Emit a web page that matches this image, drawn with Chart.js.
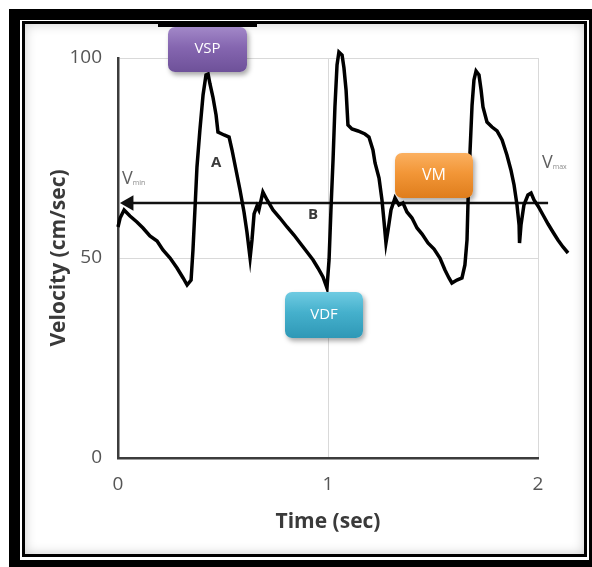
<!DOCTYPE html>
<html>
<head>
<meta charset="utf-8">
<script src="https://cdn.jsdelivr.net/npm/chart.js@4"></script>
<style>
  html, body { margin: 0; padding: 0; background: #fff; }
  #page { position: relative; width: 592px; height: 567px; overflow: hidden; background: #fff; }
  #outer-frame {
    position: absolute; left: 9px; top: 9px; width: 569px; height: 540px;
    border: 11px solid #000; background: #fff;
  }
  #inner-frame {
    position: absolute; left: 22px; top: 21px; width: 559px; height: 530px;
    border: 3px solid #000; background: #fff;
    box-shadow: inset 0 0 12px rgba(0, 0, 0, 0.2);
  }
  #chart { position: absolute; left: 0; top: 0; }
  .note { position: absolute; font-family: "Open Sans", sans-serif; }
  .letter { font-weight: bold; font-size: 15px; color: #3a3a3a; }
  .vlabel { font-size: 18px; color: #5f5f5f; line-height: 1; }
  .vlabel sub { font-size: 7px; vertical-align: baseline; position: relative; top: 1px; color: #8a8a8a; }
  .tag {
    position: absolute; color: #fff; font-family: "Open Sans", sans-serif;
    text-align: center; border-radius: 7px;
    box-shadow: 2px 3px 5px rgba(0, 0, 0, 0.35);
  }
  #vsp { left: 168px; top: 27px; width: 79px; height: 45px; line-height: 41px; font-size: 15px;
         background: linear-gradient(#a288c8, #8566b0 45%, #6e5199); }
  #vm  { left: 395px; top: 153px; width: 78px; height: 45px; line-height: 42px; font-size: 16px;
         background: linear-gradient(#fbb060, #f29637 45%, #df7d1c); }
  #vdf { left: 285px; top: 292px; width: 78px; height: 46px; line-height: 42px; font-size: 15px;
         background: linear-gradient(#6fcbe2, #45b0cc 45%, #2f98b6); }
  #cut { position: absolute; left: 158px; top: 23px; width: 99px; height: 4px; background: #000; }
</style>
</head>
<body>
<div id="page">
  <div id="outer-frame"></div>
  <div id="inner-frame"></div>
  <canvas id="chart" width="592" height="567"></canvas>

  <div class="note vlabel" style="left:122px; top:168px;">V<sub>min</sub></div>
  <div class="note vlabel" style="left:542px; top:152px;">V<sub>max</sub></div>
  <div class="note letter" style="left:211px; top:151px;">A</div>
  <div class="note letter" style="left:308px; top:203px;">B</div>

  <div id="cut"></div>
  <div class="tag" id="vsp">VSP</div>
  <div class="tag" id="vm">VM</div>
  <div class="tag" id="vdf">VDF</div>
</div>

<script>
// velocity trace (time in sec, velocity in cm/sec)
const timeSec = [
  0.000, 0.010, 0.029, 0.057, 0.090, 0.119, 0.152, 0.186, 0.214, 0.248,
  0.281, 0.310, 0.329, 0.348, 0.357, 0.367, 0.376, 0.390, 0.405, 0.419,
  0.429, 0.438, 0.452, 0.467, 0.476, 0.505, 0.529, 0.543, 0.562, 0.581,
  0.600, 0.614, 0.629, 0.638, 0.648, 0.662, 0.671, 0.690, 0.710, 0.738,
  0.771, 0.805, 0.838, 0.867, 0.900, 0.929, 0.952, 0.976, 0.995, 1.005,
  1.014, 1.024, 1.033, 1.043, 1.052, 1.067, 1.076, 1.086, 1.095, 1.114,
  1.143, 1.176, 1.195, 1.214, 1.224, 1.243, 1.257, 1.267, 1.276, 1.286,
  1.300, 1.319, 1.338, 1.357, 1.376, 1.400, 1.424, 1.448, 1.476, 1.505,
  1.533, 1.557, 1.576, 1.590, 1.614, 1.638, 1.652, 1.662, 1.667, 1.676,
  1.686, 1.695, 1.705, 1.719, 1.729, 1.738, 1.757, 1.781, 1.805, 1.829,
  1.852, 1.871, 1.886, 1.900, 1.910, 1.912, 1.919, 1.933, 1.952, 1.967,
  1.981, 2.000, 2.024, 2.048, 2.071, 2.095, 2.119, 2.143
];
const velocity = [
  57.75, 60.0, 62.0, 60.5, 59.0, 57.5, 55.5, 54.25, 52.0, 50.0,
  47.5, 45.0, 43.25, 44.5, 52.0, 62.75, 72.75, 82.0, 90.75, 95.75,
  96.0, 93.5, 90.25, 85.75, 81.5, 80.75, 80.25, 77.0, 72.0, 67.0,
  61.5, 56.5, 50.0, 54.5, 61.0, 63.0, 62.0, 66.5, 64.5, 62.0,
  60.0, 57.75, 55.75, 53.75, 51.5, 49.5, 47.5, 45.25, 42.5, 49.5,
  62.0, 74.5, 87.75, 98.25, 101.5, 100.75, 97.5, 92.0, 83.25, 82.25,
  81.75, 81.0, 80.25, 77.0, 73.75, 70.0, 64.5, 59.0, 53.75, 57.0,
  62.0, 65.0, 63.25, 63.75, 61.5, 60.0, 57.5, 56.0, 53.75, 52.25,
  50.0, 47.0, 45.0, 43.75, 44.5, 45.0, 48.25, 54.5, 64.5, 76.25,
  88.25, 94.5, 96.75, 95.75, 92.0, 87.75, 84.0, 82.75, 81.75, 79.5,
  75.75, 72.0, 68.25, 63.25, 58.25, 53.75, 58.25, 63.25, 65.75, 66.25,
  64.5, 63.0, 60.75, 58.5, 56.5, 54.5, 52.75, 51.25
];

// horizontal reference line with its arrow at the left end
const refTime = [0.052, 2.048];
const refVelocity = [63.75, 63.75];

const xTicks = [0, 1, 2];
const yTicks = [0, 50, 100];

const tickFont = { family: "Open Sans", size: 19 };
const titleFont = { family: "Open Sans", size: 21, weight: "bold" };

const tracePoints = timeSec.map((t, i) => ({ x: t, y: velocity[i] }));
const refPoints = refTime.map((t, i) => ({ x: t, y: refVelocity[i] }));

const ctx = document.getElementById("chart");

new Chart(ctx, {
  type: "line",
  data: {
    datasets: [{
      data: tracePoints,
      borderColor: "#000",
      borderWidth: 3.5,
      pointRadius: 0,
      tension: 0,
      clip: false,
    }, {
      data: refPoints,
      borderColor: "#111",
      borderWidth: 2.5,
      backgroundColor: "#111",
      pointStyle: "triangle",
      pointRotation: 270,
      pointRadius: [9, 0],
      pointBorderWidth: 0,
      clip: false,
    }]
  },
  options: {
    responsive: false,
    animation: false,
    devicePixelRatio: 1,
    layout: { padding: { left: 38, right: 54, top: 58, bottom: 0 } },
    plugins: {
      legend: { display: false },
      tooltip: { enabled: false },
    },
    scales: {
      x: {
        type: "linear",
        // range set after the data limits so the trace past 2 s is still drawn
        afterDataLimits: (scale) => { scale.min = 0; scale.max = 2; },
        afterBuildTicks: (scale) => { scale.ticks = xTicks.map((v) => ({ value: v })); },
        afterFit: (scale) => { scale.height = 109; },
        grid: { color: "#d9d9d9", lineWidth: 1, drawTicks: false },
        border: { display: true, color: "#3c3c3c", width: 2.5 },
        ticks: { font: tickFont, color: "#555", padding: 15 },
        title: { display: true, text: "Time (sec)", font: titleFont, color: "#3a3a3a", padding: { top: 0, bottom: 32 } },
      },
      y: {
        min: 0,
        max: 100,
        afterBuildTicks: (scale) => { scale.ticks = yTicks.map((v) => ({ value: v })); },
        afterFit: (scale) => { scale.width = 80; },
        grid: { color: "#d9d9d9", lineWidth: 1, drawTicks: false },
        border: { display: true, color: "#3c3c3c", width: 2.5 },
        ticks: { font: tickFont, color: "#555", padding: 16 },
        title: { display: true, text: "Velocity (cm/sec)", font: titleFont, color: "#3a3a3a", padding: { top: 8, bottom: 0 } },
      }
    }
  }
});
</script>
</body>
</html>
